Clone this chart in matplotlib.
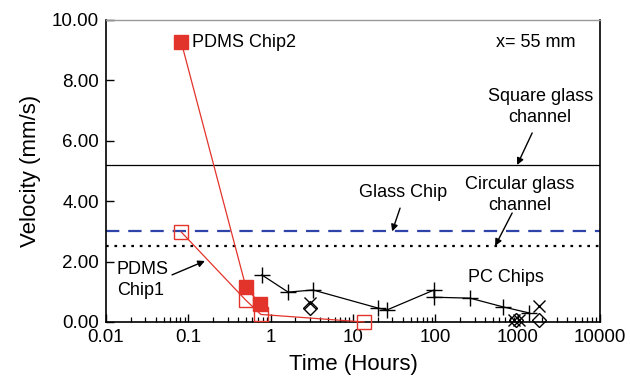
import matplotlib.pyplot as plt
from matplotlib.ticker import LogLocator, FixedLocator, NullFormatter

plt.rcParams['font.family'] = ['Liberation Sans', 'DejaVu Sans']

# PDMS chip 2 (filled squares)
pdms2_t = [0.082, 0.50, 0.74]
pdms2_v = [9.27, 1.16, 0.60]

# PDMS chip 1 (open squares)
pdms1_t = [0.082, 0.50, 0.76, 13.6]
pdms1_v = [2.98, 0.72, 0.25, 0.0]

# PC chips (plus markers joined by a line)
pc_t = [0.78, 1.63, 3.27, 20.2, 25.9, 96.6, 96.6, 264, 665, 1380]
pc_v = [1.56, 0.99, 1.06, 0.46, 0.40, 1.06, 0.82, 0.79, 0.50, 0.30]

# other PC chips, loose points
pcx_t = [3.0, 900, 1050, 1820]
pcx_v = [0.62, 0.06, 0.06, 0.52]
pcd_t = [3.0, 960, 1820]
pcd_v = [0.45, 0.08, 0.06]

# reference velocities
square_glass = 5.2
glass_chip = 3.0
circular_glass = 2.52

red = '#e2342b'
blue = '#2f44a8'

fig = plt.figure(figsize=(6.3, 3.85), dpi=100)
ax = fig.add_axes([106 / 630, 1 - 322 / 385, 494 / 630, 302 / 385])

ax.axhline(square_glass, color='black', lw=0.9)
ax.axhline(glass_chip, color=blue, lw=1.6, ls=(0, (6, 4)))
ax.axhline(circular_glass, color='black', lw=1.6, ls=(0, (1.2, 2.6)))

ax.plot(pdms2_t, pdms2_v, color=red, lw=0.9, marker='s', ms=9.5,
        mfc=red, mec=red, zorder=4)
ax.plot(pdms1_t, pdms1_v, color=red, lw=0.9, marker='s', ms=9.5,
        mfc='none', mec=red, mew=1.0, zorder=3, clip_on=False)
ax.plot(pc_t, pc_v, color='black', lw=0.9, marker='+', ms=11, mew=1.0, zorder=5)
ax.plot(pcx_t, pcx_v, ls='none', marker='x', ms=9, mew=1.0, color='black',
        zorder=5, clip_on=False)
ax.plot(pcd_t, pcd_v, ls='none', marker='D', ms=7, mfc='none', mec='black',
        mew=1.0, zorder=5, clip_on=False)

ax.set_xscale('log')
ax.set_xlim(0.01, 10000)
ax.set_ylim(0, 10)
ax.xaxis.set_minor_locator(LogLocator(base=10, subs=range(2, 10), numticks=10))
ax.xaxis.set_minor_formatter(NullFormatter())
ax.set_xticks([0.01, 0.1, 1, 10, 100, 1000, 10000])
ax.set_xticklabels(['0.01', '0.1', '1', '10', '100', '1000', '10000'])
ax.yaxis.set_major_locator(FixedLocator([0, 2, 4, 6, 8, 10]))
ax.set_yticklabels(['0.00', '2.00', '4.00', '6.00', '8.00', '10.00'])
ax.tick_params(axis='both', which='major', direction='in', length=6,
               width=1.0, labelsize=13.5, pad=5)
ax.tick_params(axis='x', which='minor', direction='in', length=3.5, width=0.9)
ax.tick_params(top=False, right=False)

for s in ['left', 'bottom', 'right']:
    ax.spines[s].set_linewidth(1.2)
ax.spines['top'].set_color('#999999')
ax.spines['top'].set_linewidth(1.0)

ax.set_xlabel('Time (Hours)', fontsize=16, labelpad=6)
ax.set_ylabel('Velocity (mm/s)', fontsize=16, labelpad=8)

fs = 13
ax.text(0.112, 9.27, 'PDMS Chip2', fontsize=fs, va='center')
ax.text(0.95, 0.925, 'x= 55 mm', fontsize=fs, ha='right', va='center',
        transform=ax.transAxes)
ax.text(0.0136, 1.39, 'PDMS\nChip1', fontsize=fs, va='center', linespacing=1.3)
ax.text(251, 1.49, 'PC Chips', fontsize=fs, va='center')
ax.text(1875, 7.12, 'Square glass\nchannel', fontsize=fs, ha='center',
        va='center', linespacing=1.3)
ax.text(40.6, 4.30, 'Glass Chip', fontsize=fs, ha='center', va='center')
ax.text(1070, 4.22, 'Circular glass\nchannel', fontsize=fs, ha='center',
        va='center', linespacing=1.3)

arrow = dict(arrowstyle='-|>', color='black', lw=1.0, mutation_scale=10,
             shrinkA=0, shrinkB=0)
ax.annotate('', xy=(986, square_glass), xytext=(1500, 6.26), arrowprops=arrow)
ax.annotate('', xy=(29.9, glass_chip), xytext=(37.3, 3.77), arrowprops=arrow)
ax.annotate('', xy=(533, circular_glass), xytext=(857, 3.61), arrowprops=arrow)
ax.annotate('', xy=(0.159, 2.02), xytext=(0.0634, 1.56), arrowprops=arrow)

fig.savefig('out.png', dpi=100)
